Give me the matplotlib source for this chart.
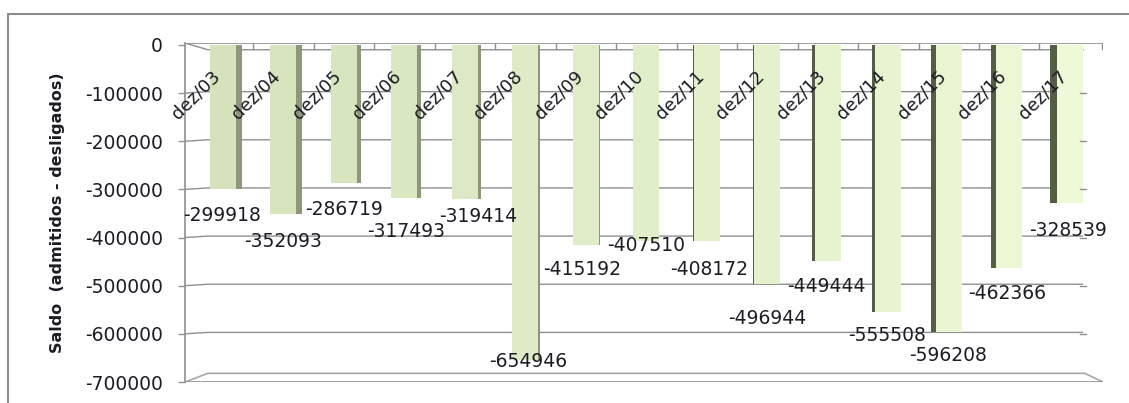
import numpy as np
import matplotlib
matplotlib.use("Agg")
import matplotlib.pyplot as plt
from matplotlib.colors import LinearSegmentedColormap
from matplotlib.patches import Rectangle

# ---------------------------------------------------------------------------
# Data
# ---------------------------------------------------------------------------

CATEGORIES = ["dez/03", "dez/04", "dez/05", "dez/06", "dez/07", "dez/08",
              "dez/09", "dez/10", "dez/11", "dez/12", "dez/13", "dez/14",
              "dez/15", "dez/16", "dez/17"]
SALDO = [-299918, -352093, -286719, -317493, -319414, -654946, -415192,
         -407510, -408172, -496944, -449444, -555508, -596208, -462366,
         -328539]
Y_TICKS = [0, -100000, -200000, -300000, -400000, -500000, -600000, -700000]

YLABEL = "Saldo  (admitidos - desligados)"

# label nudges (pixels below the bar end / to the right), as Excel placed them
LABEL_DY = [26, 27, 27, 34, 18, 1, 25, 4, 28, 34, 25, 23, 23, 26, 27]
LABEL_DX = [-1, 0, 0, 2, 13, 3, -4, 0, 2, 0, -1, -1, -1, -2, -2]

# ---------------------------------------------------------------------------
# Style
# ---------------------------------------------------------------------------

FONT = ["DejaVu Sans"]
TEXT_COLOR = "#1c1c24"
GRID_COLOR = "#8f8f8f"
SIDE_LEFT = "#8e977b"    # side face seen on the right of left-hand bars
SIDE_RIGHT = "#565d46"   # side face seen on the left of right-hand bars
bar_cmap = LinearSegmentedColormap.from_list("greens", ["#d5e3bc", "#edf9d7"])

plt.rcParams["font.family"] = FONT

fig = plt.figure(figsize=(11.29, 4.03), dpi=100)
ax = fig.add_axes([185 / 1129, 1 - 382 / 403, (1103 - 185) / 1129, (382 - 43) / 403])

n = len(CATEGORIES)
x = np.arange(n)
y = np.array(SALDO)
bar_w = 0.43
colors = bar_cmap(np.linspace(0, 1, n))

# pseudo-3D side faces: on the right for left bars, on the left for right bars
centre = (n - 1) / 2
side_w = 0.015 * np.abs(x - centre)
left_half = x < centre
side_x = np.where(left_half, x + bar_w / 2 + side_w / 2, x - bar_w / 2 - side_w / 2)
side_c = [SIDE_LEFT if lh else SIDE_RIGHT for lh in left_half]
ax.bar(side_x, y, width=side_w, color=side_c, zorder=3, linewidth=0)
ax.bar(x, y, width=bar_w, color=colors, zorder=3, linewidth=0)

ax.set_xlim(-0.628, 14.55)
ax.set_ylim(-700000, 4000)
x0, x1 = ax.get_xlim()
back_x0, back_x1 = -0.25, 14.22

# back-wall gridlines
for t in Y_TICKS[1:-1]:
    ax.plot([x0, back_x0, back_x1], [t, t + 3000, t + 3000], color=GRID_COLOR,
            lw=1, zorder=1, solid_capstyle="butt")
    ax.plot([back_x1 - 0.05, back_x1 + 0.05], [t, t], color=GRID_COLOR, lw=1, zorder=4)

# top (category axis at zero) with boundary ticks
ax.plot([x0, x1], [4000, 4000], color=GRID_COLOR, lw=1.2, zorder=2)
ax.plot([x0, back_x0, back_x1], [4000, -10000, -10000], color=GRID_COLOR, lw=1, zorder=2)
for b in np.append(x - 0.5, x1 - 0.01):
    if b > x0 + 0.3:
        ax.plot([b, b], [4000, -8000], color=GRID_COLOR, lw=1, zorder=2)

# floor
ax.plot([x0, back_x0, x1 - 0.3, x1], [-700000, -682000, -682000, -700000],
        color="#a8a8a8", lw=1.2, zorder=2)
ax.plot([x0, x1], [-700000, -700000], color=GRID_COLOR, lw=1.2, zorder=2)

# spines / ticks
for s in ["top", "right", "bottom"]:
    ax.spines[s].set_visible(False)
ax.spines["left"].set_color(GRID_COLOR)
ax.spines["left"].set_linewidth(1.2)
ax.set_xticks([])
ax.set_yticks(Y_TICKS)
ax.set_yticklabels([str(t) for t in Y_TICKS])
ax.tick_params(axis="y", length=5, width=1, color=GRID_COLOR, pad=11,
               labelsize=13.5, labelcolor=TEXT_COLOR)
ax.set_ylabel(YLABEL, fontsize=11.5, fontweight="bold", color=TEXT_COLOR)
ax.yaxis.set_label_coords(-0.131, 0.5)
ax.patch.set_visible(False)

# category labels, rotated, near the zero line
for xi, cat in zip(x, CATEGORIES):
    ax.text(xi - 0.45, -104000, cat, rotation=45, ha="center", va="center",
            fontsize=13, color=TEXT_COLOR, zorder=5)

# value labels below each bar end
for xi, v, dx, dy in zip(x, y, LABEL_DX, LABEL_DY):
    ax.annotate(str(v), (xi, v), xytext=(dx * 0.72, -dy * 0.72),
                textcoords="offset points", ha="center", va="center",
                fontsize=13.5, color=TEXT_COLOR, zorder=5)

# outer chart border
fig.patches.append(Rectangle((8 / 1129, -0.05), 1.2, 1 - 14 / 403 + 0.05,
                             transform=fig.transFigure, fill=False,
                             edgecolor="#8c8c8c", lw=1.5))

fig.savefig("out.png", dpi=100)
